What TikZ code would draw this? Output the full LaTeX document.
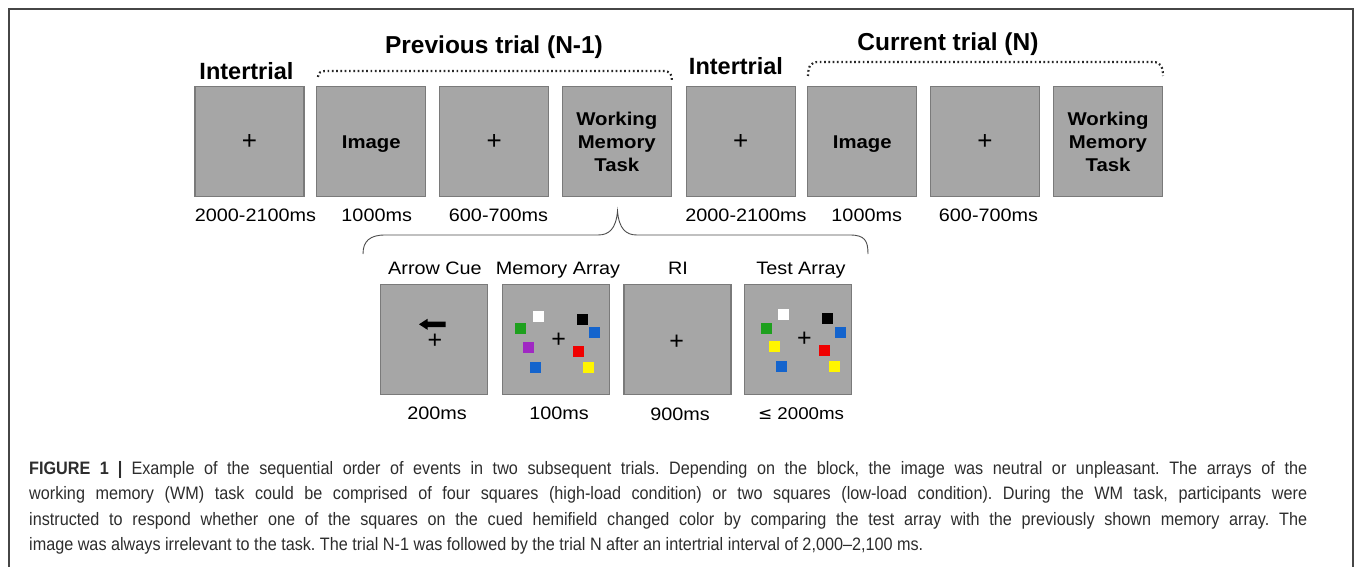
\documentclass[tikz,border=0pt]{standalone}
\usepackage{fontspec}
\setmainfont{Liberation Sans}
\newfontfamily\labfont[FakeStretch=1.1]{Liberation Sans}
\newfontfamily\capfont[FakeStretch=0.9]{Liberation Sans}

\definecolor{boxfill}{RGB}{166,166,166}
\definecolor{boxline}{RGB}{122,122,122}
\definecolor{frameline}{RGB}{70,70,70}
\definecolor{dotcol}{RGB}{40,40,40}
\definecolor{sqgreen}{RGB}{30,160,30}
\definecolor{sqpurple}{RGB}{160,40,195}
\definecolor{sqblue}{RGB}{20,100,205}
\definecolor{sqred}{RGB}{240,0,0}
\definecolor{sqyellow}{RGB}{255,245,0}
\definecolor{captext}{RGB}{45,45,45}

\tikzset{
  screen/.style={draw=boxline, fill=boxfill, line width=1.2pt,
    minimum width=109pt, minimum height=110pt, inner sep=0pt,
    font=\labfont\bfseries\fontsize{18.5}{23}\selectfont, align=center, text depth=0pt},
  crossscreen/.style={screen, font=\fontsize{26}{26}\selectfont},
  smallscreen/.style={screen, minimum width=107pt},
  phase/.style={font=\bfseries\fontsize{23.5}{26}\selectfont, anchor=base, inner sep=0pt},
  trialtitle/.style={font=\bfseries\fontsize{24.5}{28}\selectfont, anchor=base, inner sep=0pt},
  timing/.style={font=\labfont\fontsize{18}{22}\selectfont, anchor=base, inner sep=0pt},
  fixcross/.style={font=\fontsize{25}{25}\selectfont, inner sep=0pt},
  colsq/.style={minimum size=11pt, inner sep=0pt, draw=none},
  dotbrace/.style={draw=dotcol, line width=2.2pt, line cap=butt, dash pattern=on 1.7pt off 2.6pt},
  curlybrace/.style={draw=black!70, line width=0.9pt},
}

\begin{document}
\begin{tikzpicture}[x=1pt, y=-1pt]
\useasboundingbox (0,0) rectangle (1355,567);

% page frame
\draw[frameline, line width=1.5pt] (9,567) -- (9,9) -- (1353,9) -- (1353,567);

% ---------- top sequence ----------
\node[crossscreen] (it1)  at (249.5,141.7) {+};
\node[screen] (img1) at (371.3,141.7) {Image};
\node[crossscreen] (fix1) at (494.3,141.7) {+};
\node[screen] (wm1)  at (616.8,141.7) {Working\\Memory\\Task};
\node[crossscreen] (it2)  at (740.8,141.7) {+};
\node[screen] (img2) at (862.3,141.7) {Image};
\node[crossscreen] (fix2) at (985.0,141.7) {+};
\node[screen] (wm2)  at (1108.0,141.7) {Working\\Memory\\Task};

% phase headings
\node[phase] (hit1) at (246.5,79.3) {Intertrial};
\node[phase] (hit2) at (736,74.3) {Intertrial};
\node[trialtitle] (hprev) at (494,53.5) {Previous trial (N-1)};
\node[trialtitle] (hcur) at (948,51) {Current trial (N)};

% dotted brackets over each trial
\draw[dotbrace] (318,77) .. controls (318,73) and (320,71) .. (327,71) -- (663,71)
  .. controls (670,71) and (672,74) .. (672,81);
\draw[dotbrace] (808,76) .. controls (808,66) and (811,62) .. (818,62) -- (1153,62)
  .. controls (1160,62) and (1163,66) .. (1163,76);

% durations
\node[timing] (d1) at (255.5,221.7) {2000-2100ms};
\node[timing] (d2) at (376.7,221.7) {1000ms};
\node[timing] (d3) at (498.5,221.7) {600-700ms};
\node[timing] (d4) at (746,221.7) {2000-2100ms};
\node[timing] (d5) at (866.7,221.7) {1000ms};
\node[timing] (d6) at (988.5,221.7) {600-700ms};

% ---------- working memory task expansion ----------
\coordinate (btip) at (617.5,211);
\coordinate (bleft) at (363,254);
\coordinate (bright) at (868,254);
\draw[curlybrace] (bleft) .. controls (363,241) and (370,235) .. (385,235) -- (598,235)
  .. controls (609,235) and (616,229) .. (btip)
  .. controls (619,229) and (626,235) .. (637,235) -- (850,235)
  .. controls (865,235) and (868,241) .. (bright);

\node[smallscreen] (cue)  at (434.3,339.3) {};
\node[smallscreen] (mem)  at (556.0,339.3) {};
\node[smallscreen] (ri)   at (677.5,339.3) {};
\node[smallscreen] (test) at (798.3,339.3) {};

\node[timing] (lcue)  at (435,274.5) {Arrow Cue};
\node[timing] (lmem)  at (558,274.5) {Memory Array};
\node[timing] (lri)   at (678,274.5) {RI};
\node[timing] (ltest) at (801,274.5) {Test Array};

\node[timing] (dcue)  at (437,419) {200ms};
\node[timing] (dmem)  at (559,419) {100ms};
\node[timing] (dri)   at (680,420) {900ms};
\node[timing] (dtest) at (801,419) {\fontspec{DejaVu Sans}\fontsize{17}{20}\selectfont ≤\labfont\ 2000ms};

% arrow cue
\fill[black] (419,324.3) -- (427.5,318.8) -- (427.5,321.6) -- (445.5,321.6) -- (445.5,327.2)
  -- (427.5,327.2) -- (427.5,329.8) -- cycle;
\node[fixcross] (xcue)  at (435,341.5) {+};
\node[fixcross] (xmem)  at (558.7,340.5) {+};
\node[fixcross] (xri)   at (676.7,342) {+};
\node[fixcross] (xtest) at (804.3,339.5) {+};

% memory array
\node[colsq, fill=white]    (m1) at (538,316) {};
\node[colsq, fill=sqgreen]  (m2) at (520.7,328.8) {};
\node[colsq, fill=sqpurple] (m3) at (528.7,347) {};
\node[colsq, fill=sqblue]   (m4) at (535.5,367.3) {};
\node[colsq, fill=black]    (m5) at (582,319) {};
\node[colsq, fill=sqblue]   (m6) at (594.5,332.8) {};
\node[colsq, fill=sqred]    (m7) at (578,351.5) {};
\node[colsq, fill=sqyellow] (m8) at (588.8,367.2) {};

% test array
\node[colsq, fill=white]    (t1) at (783.8,314.7) {};
\node[colsq, fill=sqgreen]  (t2) at (766.3,328.3) {};
\node[colsq, fill=sqyellow] (t3) at (774.5,346.2) {};
\node[colsq, fill=sqblue]   (t4) at (781.3,366.7) {};
\node[colsq, fill=black]    (t5) at (827.8,318.3) {};
\node[colsq, fill=sqblue]   (t6) at (840.3,332.2) {};
\node[colsq, fill=sqred]    (t7) at (824.2,350.5) {};
\node[colsq, fill=sqyellow] (t8) at (834.7,366.3) {};

% ---------- caption ----------
\node[anchor=base west, inner sep=0pt, text width=1278pt, align=justify,
      font=\capfont\fontsize{18}{25.5}\selectfont\frenchspacing, text=captext] (caption) at (29,474)
{\textbf{FIGURE 1}\enspace\textbf{|}\enspace Example of the sequential order of events in two subsequent trials. Depending on the block, the image was neutral or unpleasant. The arrays of the\linebreak
working memory (WM) task could be comprised of four squares (high-load condition) or two squares (low-load condition). During the WM task, participants were\linebreak
instructed to respond whether one of the squares on the cued hemifield changed color by comparing the test array with the previously shown memory array. The\linebreak
image was always irrelevant to the task. The trial N-1 was followed by the trial N after an intertrial interval of 2,000–2,100 ms.};
\end{tikzpicture}
\end{document}
